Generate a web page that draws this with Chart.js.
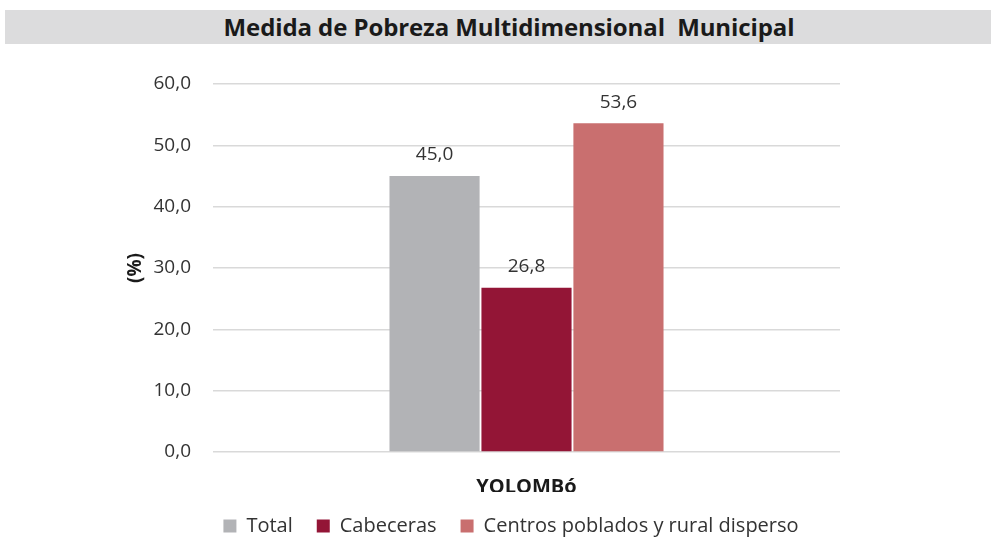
<!DOCTYPE html>
<html>
<head>
<meta charset="utf-8">
<script src="https://cdn.jsdelivr.net/npm/chart.js@4.4.0/dist/chart.umd.min.js"></script>
<style>
  html, body { margin: 0; padding: 0; background: #fff; }
  #wrap { position: relative; width: 991px; height: 555px; }
  #titleBand {
    position: absolute; left: 5px; top: 10px; width: 986px; height: 34px;
    background: #dcdcdd; color: #1a1a1a;
    font: bold 24px "Open Sans", sans-serif; line-height: 34px;
    text-align: center; letter-spacing: -0.1px;
    box-sizing: border-box; padding-left: 22px;
  }
  #myChart { position: absolute; left: 0; top: 0; }
</style>
</head>
<body>
<div id="wrap">
  <canvas id="myChart" width="991" height="555"></canvas>
  <div id="titleBand">Medida de Pobreza Multidimensional&nbsp; Municipal</div>
</div>
<script>
const categories = ['YOLOMBó'];
const seriesNames = ['Total', 'Cabeceras', 'Centros poblados y rural disperso'];
const totalValues = [45.0];
const cabecerasValues = [26.8];
const ruralValues = [53.6];
const yTicks = [0, 10, 20, 30, 40, 50, 60];

const barColors = ['#b2b3b6', '#931536', '#c96f6f'];

function fmt(v) {
    return v.toFixed(1).replace('.', ',');
}

// writes the value above each bar
const valueLabels = {
    id: 'valueLabels',
    afterDatasetsDraw(chart) {
        const ctx = chart.ctx;
        ctx.save();
        ctx.font = '19px "Open Sans", sans-serif';
        ctx.fillStyle = '#333333';
        ctx.textAlign = 'center';
        ctx.textBaseline = 'middle';
        chart.data.datasets.forEach((ds, i) => {
            chart.getDatasetMeta(i).data.forEach((bar, j) => {
                ctx.fillText(fmt(ds.data[j]), bar.x, bar.y - 21);
            });
        });
        ctx.restore();
    }
};

const config = {
    type: 'bar',
    data: {
        labels: categories,
        datasets: [
            { label: seriesNames[0], data: totalValues, backgroundColor: barColors[0] },
            { label: seriesNames[1], data: cabecerasValues, backgroundColor: barColors[1] },
            { label: seriesNames[2], data: ruralValues, backgroundColor: barColors[2] }
        ]
    },
    options: {
        responsive: false,
        animation: false,
        categoryPercentage: 0.44,
        barPercentage: 0.98,
        layout: { padding: { left: 124, right: 93, top: 84, bottom: 9 } },
        scales: {
            y: {
                min: 0,
                max: 60,
                afterBuildTicks: (scale) => { scale.ticks = yTicks.map(v => ({ value: v })); },
                afterFit: (scale) => { scale.width = 89; },
                border: { display: false },
                grid: { color: '#d9d9d9', lineWidth: 1.5, drawTicks: false },
                ticks: {
                    padding: 22,
                    color: '#333333',
                    font: { family: '"Open Sans", sans-serif', size: 19 },
                    callback: (v) => fmt(v)
                },
                title: {
                    display: true,
                    text: '(%)',
                    color: '#1a1a1a',
                    padding: 0,
                    font: { family: '"Open Sans", sans-serif', size: 19, weight: 'bold' }
                }
            },
            // empty right-hand axis, only reserves space so the legend sits centred on the page
            yRight: {
                type: 'linear',
                position: 'right',
                min: 0,
                max: 60,
                border: { display: false },
                grid: { display: false },
                ticks: { display: false },
                afterFit: (scale) => { scale.width = 58; }
            },
            x: {
                border: { display: false },
                grid: { display: false },
                afterFit: (scale) => { scale.height = 40; },
                ticks: {
                    padding: 15,
                    color: '#1a1a1a',
                    font: { family: '"Open Sans", sans-serif', size: 20, weight: 'bold' }
                }
            }
        },
        plugins: {
            legend: {
                position: 'bottom',
                labels: {
                    boxWidth: 13,
                    boxHeight: 13,
                    padding: 24,
                    color: '#333333',
                    font: { family: '"Open Sans", sans-serif', size: 20 }
                }
            },
            tooltip: { enabled: false }
        }
    },
    plugins: [valueLabels]
};

const myChart = new Chart(document.getElementById('myChart'), config);
</script>
</body>
</html>
